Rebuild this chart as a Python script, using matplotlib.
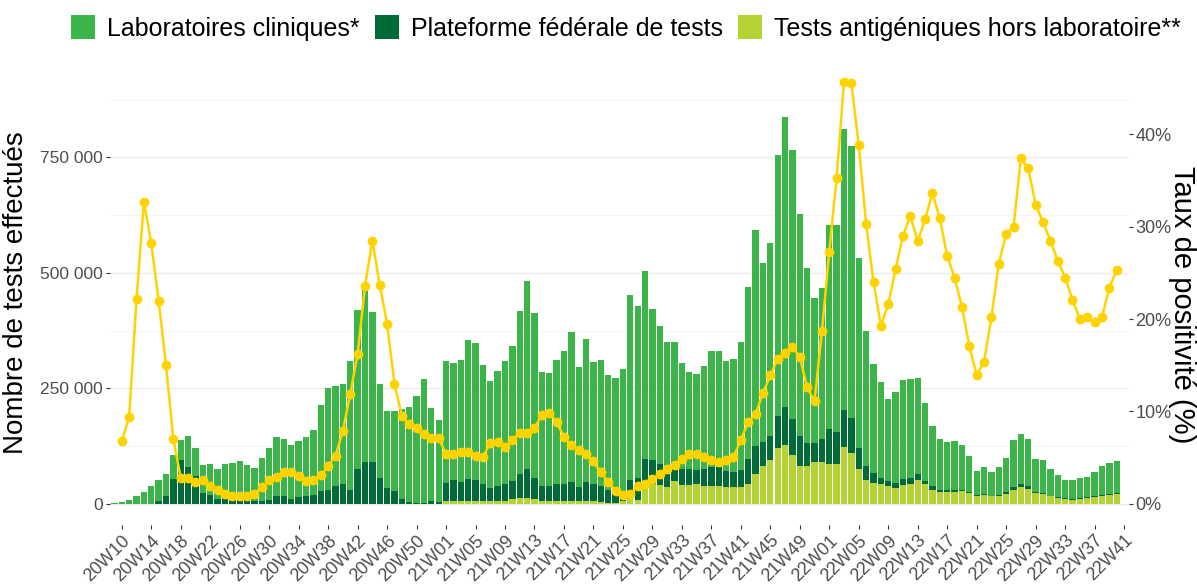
import numpy as np
import matplotlib.pyplot as plt
from matplotlib.patches import Patch
from matplotlib.ticker import FixedLocator, FuncFormatter

plt.rcParams["font.family"] = ["Liberation Sans", "DejaVu Sans"]

# semaines ISO : 20W09 .. 22W40 (données), 22W41 = niveau vide de l'axe
weeks = (
    [f"20W{w:02d}" for w in range(9, 54)]
    + [f"21W{w:02d}" for w in range(1, 53)]
    + [f"22W{w:02d}" for w in range(1, 42)]
)

# nombre de tests (milliers) par semaine, de 20W09 à 22W40
labs = [
    1.5, 3.6, 8.7, 16.7, 26, 37.7, 46, 46.5, 52, 45, 66, 60, 61, 68, 65, 76, 78, 83, 76, 72, 92, 111, 129,
    125, 116, 122, 127, 139, 186, 220, 218, 217, 280, 344, 376, 326, 204, 166, 173, 195, 206, 232, 270, 201, 178,
    263, 255, 265, 300, 297, 258, 232, 250, 267, 292, 352, 406, 357, 247, 244, 270, 288, 324, 260, 309, 266, 273,
    250, 251, 280, 400, 371, 405, 328, 298, 268, 273, 230, 210, 207, 223, 250, 252, 239, 244, 276, 372, 468, 387,
    418, 566, 628, 584, 481, 379, 314, 327, 442, 448, 608, 588, 411, 292, 237, 206, 178, 198, 215, 215, 207, 169,
    131, 112, 104, 106, 96, 78, 52, 57, 52, 60, 75, 103, 109, 102, 71, 71, 57, 47, 39, 40, 45, 45, 54, 63, 67, 70,
]
federal = [
    0, 0, 0, 0, 0, 0, 6, 18, 54, 94, 80, 60, 23, 19, 10, 10, 10, 10, 9, 6, 7, 9, 16,
    16, 11, 14, 18, 20, 27, 30, 38, 42, 29, 75, 91, 90, 56, 34, 27, 10, 4, 2, 1, 6, 4,
    40, 45, 41, 48, 45, 36, 29, 32, 36, 39, 52, 63, 46, 32, 33, 36, 38, 41, 30, 41, 36, 35,
    26, 20, 7, 41, 48, 56, 52, 46, 47, 29, 36, 36, 32, 38, 42, 42, 35, 33, 38, 54, 61, 52,
    51, 68, 82, 78, 65, 49, 41, 49, 75, 70, 81, 75, 46, 31, 20, 14, 12, 11, 13, 12, 13, 7,
    7, 4, 4, 4, 4, 2, 2, 2, 2, 2, 3, 6, 7, 6, 3, 2, 2, 2, 2, 2, 2, 2, 2, 2, 2, 2,
]
antigen = [
    0, 0, 0, 0, 0, 0, 0, 0, 0, 0, 0, 0, 0, 0, 0, 0, 0, 0, 0, 0, 0, 0, 0,
    0, 0, 0, 0, 0, 0, 0, 0, 0, 0, 0, 0, 0, 0, 0, 0, 0, 0, 0, 0, 0, 0,
    6, 6, 6, 6, 6, 6, 6, 6, 6, 10, 13, 13, 11, 6, 6, 6, 6, 6, 6, 6, 6, 4,
    3, 2, 6, 11, 9, 42, 42, 40, 36, 49, 40, 40, 42, 38, 38, 38, 36, 36, 36, 43, 64, 83,
    96, 122, 127, 105, 81, 83, 91, 91, 87, 86, 123, 111, 76, 52, 46, 43, 38, 34, 40, 43, 52, 43,
    31, 25, 25, 26, 27, 24, 18, 20, 16, 18, 22, 30, 36, 32, 23, 22, 16, 13, 10, 9, 10, 12, 14, 18, 20, 21,
]
# taux de positivité (%) de 20W10 à 22W40
positivity = [
    6.8, 9.4, 22.2, 32.7, 28.2, 22.0, 15.0, 7.0, 2.8, 2.8, 2.4, 2.6, 1.9, 1.5, 1.1, 0.9, 0.9, 0.9, 1.1, 1.8, 2.6, 2.9,
    3.5, 3.4, 3.0, 2.5, 2.6, 3.1, 4.1, 5.2, 7.9, 11.9, 16.2, 23.6, 28.5, 23.7, 19.5, 13.0, 9.5, 8.6, 8.2, 7.6, 7.1, 7.1, 5.4,
    5.4, 5.6, 5.6, 5.2, 5.1, 6.6, 6.7, 6.2, 6.9, 7.7, 7.7, 8.2, 9.6, 9.8, 8.9, 7.2, 6.4, 5.8, 5.4, 4.6, 3.4, 2.4, 1.4,
    1.0, 1.1, 1.9, 2.1, 2.7, 3.2, 3.8, 4.2, 4.9, 5.4, 5.4, 5.1, 4.8, 4.5, 4.7, 5.1, 6.9, 8.9, 9.7, 12.0, 13.9, 15.7, 16.3,
    17.0, 15.9, 12.6, 11.1, 18.7, 27.3, 35.3, 45.7, 45.5, 38.8, 30.3, 24.0, 19.3, 21.6, 25.4, 29.0, 31.2, 28.4, 30.8, 33.6, 30.9, 26.8, 24.5,
    21.3, 17.1, 13.9, 15.4, 20.2, 26.0, 29.2, 30.0, 37.4, 36.3, 32.4, 30.5, 28.5, 26.3, 24.5, 22.1, 20.0, 20.2, 19.7, 20.2, 23.4, 25.3,
]
tick_labels = weeks[1::4]

c_labs = "#3BB54A"
c_fed = "#006B36"
c_ag = "#B5D334"
c_line = "#FFD300"
scale = 20000  # 1 % = 20 000 tests sur l'axe principal

labs = np.array(labs) * 1000
federal = np.array(federal) * 1000
antigen = np.array(antigen) * 1000
positivity = np.array(positivity)

x_bar = np.arange(len(labs))
x_line = np.arange(1, len(positivity) + 1)
x_ticks = np.arange(1, len(weeks), 4)

fig = plt.figure(figsize=(11.97, 5.84), dpi=100)
ax = fig.add_axes([110 / 1197, 1 - 525 / 584, 1018.5 / 1197, 464.5 / 584])

w = 0.86
ax.bar(x_bar, antigen, width=w, color=c_ag, linewidth=0)
ax.bar(x_bar, federal, width=w, bottom=antigen, color=c_fed, linewidth=0)
ax.bar(x_bar, labs, width=w, bottom=antigen + federal, color=c_labs, linewidth=0)
ax.plot(x_line, positivity * scale, color=c_line, lw=1.8, marker="o", ms=6, zorder=5)

total = labs + federal + antigen
ymax = max(total.max(), positivity.max() * scale)
ax.set_ylim(-0.05 * ymax, 1.05 * ymax)
ax.set_xlim(-0.6, len(weeks) - 0.4)

ax.yaxis.set_major_locator(FixedLocator([0, 250000, 500000, 750000]))
ax.yaxis.set_minor_locator(FixedLocator([125000, 375000, 625000, 875000]))
ax.yaxis.set_major_formatter(FuncFormatter(lambda v, p: f"{int(v):,}".replace(",", " ")))
ax.grid(axis="y", which="major", color="#EBEBEB", lw=0.9)
ax.grid(axis="y", which="minor", color="#F4F4F4", lw=0.6)
ax.set_axisbelow(True)
for s in ax.spines.values():
    s.set_visible(False)

ax.set_xticks(x_ticks)
ax.set_xticklabels(tick_labels, rotation=45, ha="right", va="top", rotation_mode="anchor")
ax.tick_params(axis="x", length=3, color="#333333", labelsize=13, labelcolor="#4D4D4D", pad=2)
ax.tick_params(axis="y", which="major", length=3, color="#333333", labelsize=12.5, labelcolor="#4D4D4D", pad=2)
ax.tick_params(axis="y", which="minor", length=0)
ax.set_ylabel("Nombre de tests effectués", fontsize=20, labelpad=8)

sec = ax.secondary_yaxis("right", functions=(lambda y: y / scale, lambda p: p * scale))
sec.yaxis.set_major_locator(FixedLocator([0, 10, 20, 30, 40]))
sec.yaxis.set_major_formatter(FuncFormatter(lambda v, p: f"{int(v)}%"))
sec.tick_params(length=3, color="#333333", labelsize=13, labelcolor="#4D4D4D", pad=2)
for s in sec.spines.values():
    s.set_visible(False)
fig.text(1182 / 1197, 1 - 305 / 584, "Taux de positivité (%)", fontsize=21, rotation=270,
         ha="center", va="center")

handles = [
    Patch(facecolor=c_labs, label="Laboratoires cliniques*"),
    Patch(facecolor=c_fed, label="Plateforme fédérale de tests"),
    Patch(facecolor=c_ag, label="Tests antigéniques hors laboratoire**"),
]
fig.legend(
    handles=handles, loc="center", bbox_to_anchor=(626 / 1197, 1 - 28 / 584), ncol=3,
    frameon=False, fontsize=18, handlelength=0.95, handleheight=1.05, handletextpad=0.5,
    columnspacing=0.6,
)

fig.savefig("out.png", dpi=100)
